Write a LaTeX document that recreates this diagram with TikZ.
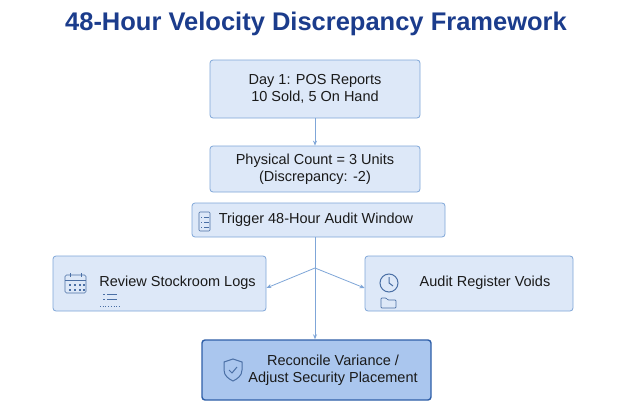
\documentclass[tikz,border=0pt]{standalone}
\usepackage{fontspec}
\setmainfont{Liberation Sans}
\usetikzlibrary{arrows.meta}
\definecolor{titleblue}{HTML}{1B3C8C}
\definecolor{boxfill}{HTML}{DDE8F8}
\definecolor{boxline}{HTML}{7FA6D8}
\definecolor{darkfill}{HTML}{AAC6EE}
\definecolor{darkline}{HTML}{2F5FA8}
\definecolor{txt}{HTML}{1A1A1A}
\definecolor{icon}{HTML}{4A6FA5}
\begin{document}
\begin{tikzpicture}[x=1pt,y=-1pt,
 box/.style={draw=boxline,fill=boxfill,rounded corners=3pt,line width=0.8pt,align=center,text=txt,font=\fontsize{14.5}{17}\selectfont,inner sep=0pt},
 dark/.style={box,draw=darkline,fill=darkfill,line width=1.4pt},
 lbl/.style={font=\fontsize{14.5}{17}\selectfont,text=txt,align=center},
 conn/.style={draw=boxline,line width=0.8pt,-{Stealth[length=5pt,width=4pt]}},
 ic/.style={draw=icon,line width=0.7pt}]
\path[use as bounding box,fill=white] (0,0) rectangle (632,415);
\node[font=\bfseries\fontsize{25.5}{28}\selectfont,text=titleblue] (title) at (316,24) {48-Hour Velocity Discrepancy Framework};
\node[box,minimum width=210pt,minimum height=58pt] (b1) at (315,89) {Day 1: POS Reports\\10 Sold, 5 On Hand};
\node[box,minimum width=210pt,minimum height=46pt] (b2) at (315,169) {Physical Count = 3 Units\\(Discrepancy: -2)};
\node[box,minimum width=253pt,minimum height=34pt] (b3) at (318.5,220) {};
\node[lbl] (b3t) at (316,220) {Trigger 48-Hour Audit Window};
\node[box,minimum width=213pt,minimum height=55pt] (bl) at (159.5,283.5) {};
\node[lbl] (blt) at (177.5,283) {Review Stockroom Logs};
\node[box,minimum width=208pt,minimum height=55pt] (br) at (469,283.5) {};
\node[lbl] (brt) at (485,283) {Audit Register Voids};
\node[dark,minimum width=229pt,minimum height=60pt] (bb) at (316.5,370) {};
\node[lbl] (bbt) at (333,370) {Reconcile Variance /\\Adjust Security Placement};
% connectors
\draw[conn] (b1.south) -- (b2.north);
\coordinate (split) at (315,268);
\draw[draw=boxline,line width=0.8pt] (315,237) -- (split);
\draw[conn] (split) -- (bl.east |- 0,288);
\draw[conn] (split) -- (br.west |- 0,288);
\draw[conn] (split) -- (split |- bb.north);
% icons: trigger list
\draw[ic,rounded corners=1pt] (199,212) rectangle (210,231);
\foreach \y in {217,222,227}{\draw[ic] (201,\y) -- (202,\y); \draw[ic] (204,\y) -- (209,\y);}
% calendar
\draw[ic,rounded corners=1.5pt] (65,275) rectangle (86,293);
\draw[ic] (65,280) -- (86,280);
\foreach \x in {69,74,79,83}{\foreach \y in {284,289}{\fill[icon] (\x,\y) rectangle ++(1.8,1.8);}}
\draw[ic] (70,273)--(70,277); \draw[ic] (81,273)--(81,277);
\foreach \y in {294,299}{\draw[ic] (103,\y) -- (105,\y); \draw[ic] (107,\y) -- (117,\y);}
\draw[ic,dotted] (100,306) -- (120,306);
% clock
\draw[ic,line width=1pt] (389,283) circle (9);
\draw[ic,line width=1pt] (389,277) -- (389,283) -- (393,286);
\draw[ic,rounded corners=0.8pt] (381,298) -- (381,308) -- (396,308) -- (396,300) -- (388,300) -- (386,298) -- cycle;
% shield
\draw[ic,line width=1pt] (224,362) -- (233,359) -- (242,362) -- (242,370) .. controls (242,376) and (237,379) .. (233,381) .. controls (229,379) and (224,376) .. (224,370) -- cycle;
\draw[ic,line width=1pt] (229,370) -- (232,373) -- (237,367);
\end{tikzpicture}
\end{document}
